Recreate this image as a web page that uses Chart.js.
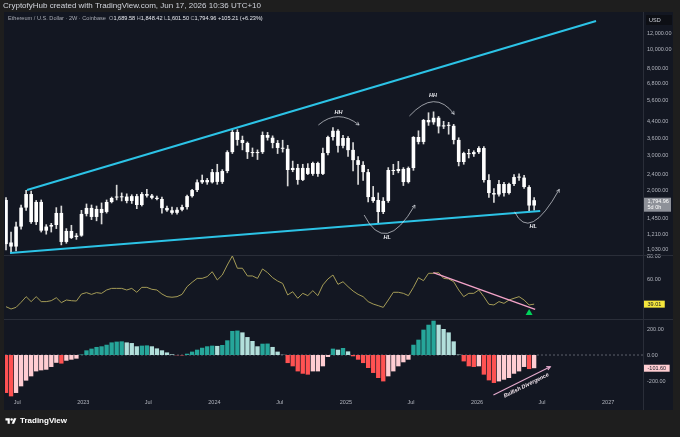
<!DOCTYPE html>
<html>
<head>
<meta charset="utf-8">
<title>Ethereum / U.S. Dollar 2W</title>
<script src="https://cdn.jsdelivr.net/npm/chart.js@4.4.1/dist/chart.umd.min.js"></script>
<style>
  html, body { margin: 0; padding: 0; background: #1e1e1e; }
  #wrap { position: relative; width: 680px; height: 437px; overflow: hidden; font-family: "Liberation Sans", Arial, sans-serif; }
  #panel { position: absolute; left: 4px; top: 12px; width: 669px; height: 398px; background: #131722; }
  #chart { position: absolute; left: 0; top: 0; }
  #header { position: absolute; left: 3px; top: 1px; font-size: 8px; color: #d1d4dc; white-space: nowrap; }
  #legend { position: absolute; left: 8px; top: 15px; font-size: 5.6px; color: #a7aab3; white-space: nowrap; }
  #legend b { font-weight: normal; color: #e6e8ee; }
  #footer { position: absolute; left: 5px; top: 416px; font-size: 8px; font-weight: bold; color: #ffffff; display: flex; align-items: center; gap: 3px; }
</style>
</head>
<body>
<div id="wrap">
  <div id="panel"></div>
  <canvas id="chart" width="680" height="437"></canvas>
  <div id="header">CryptofyHub created with TradingView.com, Jun 17, 2026 10:36 UTC+10</div>
  <div id="legend">Ethereum / U.S. Dollar · 2W · Coinbase &nbsp;O<b>1,689.58</b> H<b>1,848.42</b> L<b>1,601.50</b> C<b>1,794.96</b> <b>+105.21 (+6.23%)</b></div>
  <div id="footer">
    <svg width="12" height="8" viewBox="0 0 36 26"><path d="M14 22H7V11H0V4h14v18z" fill="#fff"/><circle cx="20" cy="8" r="4" fill="#fff"/><path d="M28 22h-8l7.5-18h8L28 22z" fill="#fff"/></svg>
    <span>TradingView</span>
  </div>
</div>
<script>
// ETH/USD, 2-week candles, Coinbase
const opens = [
  1800, 1110, 1060, 1330, 1650, 1925, 1400, 1760, 1270, 1330,
  1354, 1553, 1117, 1265, 1182, 1200, 1536, 1644, 1484, 1625,
  1571, 1759, 1850, 1865, 1870, 1780, 1880, 1700, 1925, 1890,
  1845, 1820, 1644, 1600, 1555, 1610, 1660, 1880, 2014, 2200,
  2257, 2200, 2470, 2210, 2500, 3100, 3895, 3560, 3440, 3100,
  3067, 3100, 3766, 3650, 3440, 3250, 3220, 2530, 2590, 2260,
  2590, 2420, 2740, 2420, 3067, 3680, 3950, 3330, 3640, 3180,
  2830, 2680, 2470, 1860, 1800, 1570, 1780, 2530, 2500, 2560,
  2206, 2587, 3680, 3480, 4464, 4350, 4580, 4150, 4200, 4180,
  3560, 2770, 3067, 3030, 3100, 3247, 2257, 1947, 1915, 2157,
  1947, 2157, 2335, 2320, 2084, 1689.58
];
const highs = [
  1850, 1250, 1400, 1700, 2010, 1990, 1790, 1800, 1360, 1380,
  1650, 1680, 1300, 1350, 1230, 1600, 1720, 1700, 1680, 1740,
  1800, 1860, 2130, 1950, 1930, 1910, 1920, 1960, 2030, 1920,
  1880, 1860, 1680, 1660, 1650, 1700, 1900, 2030, 2260, 2390,
  2300, 2550, 2700, 2540, 3150, 4000, 4000, 3720, 3480, 3250,
  3180, 3900, 3880, 3730, 3540, 3550, 3350, 2800, 2700, 2700,
  2720, 2770, 2770, 3250, 3720, 4100, 4000, 3750, 3700, 3450,
  2950, 2780, 2550, 2100, 1950, 1850, 2600, 2700, 2790, 2600,
  2620, 3700, 3950, 4500, 4850, 4900, 4650, 4400, 4350, 4250,
  3650, 3100, 3200, 3150, 3300, 3300, 2400, 2050, 2250, 2200,
  2180, 2400, 2420, 2380, 2120, 1848.42
];
const lows = [
  1020, 985, 1010, 1290, 1600, 1380, 1360, 1250, 1220, 1250,
  1300, 1080, 1100, 1160, 1150, 1190, 1500, 1440, 1420, 1370,
  1550, 1740, 1800, 1780, 1740, 1730, 1630, 1680, 1860, 1820,
  1800, 1550, 1580, 1530, 1530, 1590, 1620, 1860, 1980, 2170,
  2150, 2180, 2150, 2170, 2450, 3050, 3350, 3180, 2880, 2950,
  2850, 3050, 3550, 3250, 3050, 3100, 2110, 2480, 2150, 2240,
  2400, 2380, 2350, 2400, 3000, 3550, 3100, 3250, 2950, 2500,
  2150, 2250, 1760, 1750, 1385, 1540, 1750, 2400, 2450, 2120,
  2180, 2520, 3400, 3400, 4200, 4250, 3850, 4050, 3800, 3400,
  2650, 2700, 2900, 2950, 3050, 2200, 1850, 1750, 1880, 1880,
  1920, 2120, 2250, 2050, 1571, 1601.50
];
const closes = [
  1090, 1060, 1330, 1650, 1925, 1400, 1760, 1270, 1330, 1354,
  1553, 1117, 1265, 1169, 1200, 1536, 1644, 1484, 1625, 1553,
  1759, 1840, 1865, 1855, 1780, 1880, 1700, 1925, 1890, 1845,
  1820, 1640, 1600, 1555, 1610, 1660, 1880, 2014, 2200, 2257,
  2200, 2470, 2210, 2500, 3100, 3895, 3560, 3440, 3100, 3067,
  3100, 3766, 3650, 3440, 3250, 3220, 2530, 2590, 2260, 2590,
  2420, 2740, 2420, 3067, 3680, 3950, 3330, 3640, 3170, 2830,
  2680, 2470, 1860, 1780, 1570, 1780, 2530, 2500, 2560, 2206,
  2587, 3680, 3480, 4464, 4350, 4580, 4150, 4200, 4180, 3560,
  2770, 3067, 3030, 3100, 3247, 2257, 1947, 1915, 2157, 1947,
  2157, 2335, 2320, 2084, 1689.58, 1794.96
];
const rsiValues = [
  36.8, 34.8, 36.2, 40.6, 45.5, 41.2, 45.5, 41.2, 41.2, 42.0,
  44.6, 40.3, 42.6, 42.0, 41.7, 47.8, 49.0, 47.5, 49.0, 48.4,
  51.3, 52.7, 52.7, 52.7, 51.3, 52.7, 49.3, 53.6, 53.6, 51.9,
  51.3, 47.8, 45.5, 45.0, 45.5, 47.5, 54.2, 58.0, 61.4, 61.4,
  62.9, 67.2, 60.0, 64.3, 73.0, 80.9, 70.2, 70.2, 63.5, 63.5,
  61.4, 69.6, 66.4, 62.0, 59.1, 57.0, 47.0, 49.8, 44.1, 48.4,
  46.4, 50.7, 46.4, 55.7, 60.9, 64.3, 56.2, 58.5, 54.2, 50.4,
  47.5, 45.5, 41.2, 39.1, 37.7, 36.2, 42.6, 49.3, 49.3, 48.4,
  46.4, 53.6, 62.0, 59.4, 65.8, 65.8, 66.4, 61.4, 60.9, 58.5,
  51.3, 45.5, 48.4, 48.4, 51.3, 45.5, 38.9, 38.3, 41.2, 39.7,
  42.6, 44.1, 45.5, 42.6, 38.3, 39.01
];
const macdHist = [
  -292, -318, -292, -241, -197, -164, -126, -118, -113, -92,
  -60, -66, -44, -36, -28, 4, 36, 49, 62, 67,
  79, 97, 103, 105, 97, 92, 67, 72, 74, 67,
  51, 36, 20, 5, -2, -3, 10, 26, 41, 56,
  67, 72, 70, 77, 113, 185, 188, 174, 138, 108,
  67, 87, 88, 62, 26, 2, -62, -87, -126, -144,
  -151, -126, -126, -87, -15, 49, 41, 54, 28, -10,
  -36, -62, -100, -138, -177, -203, -164, -126, -87, -56,
  -36, 79, 118, 195, 233, 264, 233, 200, 174, 105,
  3, -49, -87, -92, -87, -151, -195, -215, -203, -190,
  -177, -144, -126, -92, -108, -101.60
];

const firstCandleDate = '2022-05-31';
const candleDays = 14;
const timeTickLabels = ['Jul', '2023', 'Jul', '2024', 'Jul', '2025', 'Jul', '2026', 'Jul', '2027'];
const timeTickDates = ['2022-07-01', '2023-01-01', '2023-07-01', '2024-01-01', '2024-07-01',
  '2025-01-01', '2025-07-01', '2026-01-01', '2026-07-01', '2027-01-01'];
const priceTicks = [12000, 10000, 8000, 6800, 5600, 4400, 3600, 3000, 2400, 2000, 1450, 1210, 1030];
const rsiTicks = [80, 60];
const macdTicks = [200, 0, -200];

// drawings, as [candle index, value]
const upperTrend = [[4.17, 2014], [117.3, 13750]];
const lowerTrend = [[0.8, 985], [106.2, 1589]];
const rsiTrend = [[84.95, 66.4], [105.2, 34.5]];
const divergenceMark = [104.0, 31.3];
const divergenceArrow = [[96.9, -308], [108.2, -90]];
const swingNotes = [
  { text: 'HH', at: [66.1, 4850], arc: [[62.1, 4218], [66.0, 5100], [70.2, 4218]] },
  { text: 'HH', at: [84.9, 5933], arc: [[80.2, 4673], [85.3, 6408], [89.1, 4764]] },
  { text: 'HL', at: [75.8, 1177], arc: [[71.2, 1517], [75.4, 945], [81.3, 1699]] },
  { text: 'HL', at: [104.8, 1328], arc: [[101.1, 1574], [104.1, 1106], [110.0, 2032]] }
];

const FONT = '"Liberation Sans", Arial, sans-serif';
const AXIS_TEXT = '#b2b5be';

const dayMs = 86400000;
const timeTickPos = timeTickDates.map(d => (Date.parse(d) - Date.parse(firstCandleDate)) / (candleDays * dayMs));

const idx = closes.map((c, i) => i);
const wickData = idx.map(i => ({ x: i, y: [lows[i], highs[i]] }));
const bodyData = idx.map(i => ({ x: i, y: [opens[i], closes[i]] }));
const rsiData = idx.map(i => ({ x: i, y: rsiValues[i] }));
const macdData = idx.map(i => ({ x: i, y: macdHist[i] }));
const toXY = pts => pts.map(p => ({ x: p[0], y: p[1] }));

const macdColors = macdHist.map((v, i) => {
  const prev = i > 0 ? macdHist[i - 1] : v;
  if (v >= 0) return v >= prev ? '#26a69a' : '#b2dfdb';
  return (i === 0 || v < prev) ? '#ff5252' : '#ffcdd2';
});

function fmt(v) {
  return v.toLocaleString('en-US', { minimumFractionDigits: 2, maximumFractionDigits: 2 });
}

function axisLabel(ctx, left, y, text, bg, fg, sub) {
  ctx.save();
  ctx.font = '5.5px ' + FONT;
  const h = sub ? 14 : 7;
  const w = sub ? 27 : ctx.measureText(text).width + 7;
  ctx.fillStyle = bg;
  ctx.fillRect(left, y - 3.5, w, h);
  ctx.fillStyle = fg;
  ctx.textBaseline = 'middle';
  ctx.fillText(text, left + 3.5, y);
  if (sub) ctx.fillText(sub, left + 3.5, y + 6.5);
  ctx.restore();
}

function arrowHead(ctx, from, to, size) {
  const a = Math.atan2(to.y - from.y, to.x - from.x);
  ctx.beginPath();
  ctx.moveTo(to.x - size * Math.cos(a - 0.5), to.y - size * Math.sin(a - 0.5));
  ctx.lineTo(to.x, to.y);
  ctx.lineTo(to.x - size * Math.cos(a + 0.5), to.y - size * Math.sin(a + 0.5));
  ctx.stroke();
}

const overlay = {
  id: 'overlay',
  beforeDatasetsDraw(chart) {
    const { ctx, chartArea, scales } = chart;
    const y0 = scales.macd.getPixelForValue(0);
    ctx.save();
    ctx.strokeStyle = '#5d606b';
    ctx.lineWidth = 1;
    ctx.setLineDash([2, 2]);
    ctx.beginPath();
    ctx.moveTo(chartArea.left, y0);
    ctx.lineTo(chartArea.right, y0);
    ctx.stroke();
    ctx.restore();
  },
  afterDraw(chart) {
    const { ctx, chartArea, scales } = chart;
    const x = scales.x, price = scales.price, rsi = scales.rsi, macd = scales.macd;
    const P = p => ({ x: x.getPixelForValue(p[0]), y: price.getPixelForValue(p[1]) });

    ctx.save();
    // pane borders
    ctx.strokeStyle = '#2a2e39';
    ctx.lineWidth = 1;
    ctx.beginPath();
    ctx.moveTo(4, Math.round(rsi.top) + 0.5); ctx.lineTo(673, Math.round(rsi.top) + 0.5);
    ctx.moveTo(4, Math.round(macd.top) + 0.5); ctx.lineTo(673, Math.round(macd.top) + 0.5);
    ctx.moveTo(Math.round(chartArea.right) + 0.5, 12); ctx.lineTo(Math.round(chartArea.right) + 0.5, 410);
    ctx.stroke();

    // HH / HL notes
    ctx.strokeStyle = 'rgba(220,222,228,0.85)';
    ctx.lineWidth = 0.8;
    ctx.fillStyle = '#e8e9ee';
    ctx.font = 'italic bold 5.5px ' + FONT;
    ctx.textAlign = 'center';
    ctx.textBaseline = 'middle';
    swingNotes.forEach(n => {
      const a = P(n.arc[0]), c = P(n.arc[1]), b = P(n.arc[2]);
      ctx.beginPath();
      ctx.moveTo(a.x, a.y);
      ctx.quadraticCurveTo(c.x, c.y, b.x, b.y);
      ctx.stroke();
      arrowHead(ctx, c, b, 3.5);
      const t = P(n.at);
      ctx.fillText(n.text, t.x, t.y);
    });

    // divergence arrow + text on the MACD pane
    const s = { x: x.getPixelForValue(divergenceArrow[0][0]), y: macd.getPixelForValue(divergenceArrow[0][1]) };
    const e = { x: x.getPixelForValue(divergenceArrow[1][0]), y: macd.getPixelForValue(divergenceArrow[1][1]) };
    ctx.strokeStyle = '#e3a9cc';
    ctx.lineWidth = 1.2;
    ctx.beginPath();
    ctx.moveTo(s.x, s.y);
    ctx.lineTo(e.x, e.y);
    ctx.stroke();
    arrowHead(ctx, s, e, 4);
    const ang = Math.atan2(e.y - s.y, e.x - s.x);
    ctx.translate((s.x + e.x) / 2, (s.y + e.y) / 2);
    ctx.rotate(ang);
    ctx.fillStyle = '#f3e6ee';
    ctx.font = 'italic bold 5.5px ' + FONT;
    ctx.fillText('Bullish Divergence', 2, 6);
    ctx.setTransform(1, 0, 0, 1, 0, 0);
    ctx.restore();

    // price scale extras
    const left = chartArea.right + 1;
    ctx.save();
    ctx.fillStyle = '#0d0f15';
    ctx.fillRect(left + 2, 15, 26, 10);
    ctx.fillStyle = '#d1d4dc';
    ctx.font = '5.5px ' + FONT;
    ctx.textBaseline = 'middle';
    ctx.fillText('USD', left + 5, 20);
    ctx.restore();

    const last = closes.length - 1;
    axisLabel(ctx, left, price.getPixelForValue(closes[last]) + 1, fmt(closes[last]), '#8e9199', '#ffffff', '5d 0h');
    axisLabel(ctx, left, rsi.getPixelForValue(rsiValues[last]), fmt(rsiValues[last]), '#f5e63c', '#131722');
    axisLabel(ctx, left, macd.getPixelForValue(macdHist[last]), fmt(macdHist[last]), '#ffcdd2', '#131722');
  }
};

const yAxisBase = {
  position: 'right',
  stack: 'panes',
  grid: { display: false, drawTicks: false },
  border: { display: false },
  afterFit: s => { s.width = 30; },
  ticks: { autoSkip: false, padding: 4, color: AXIS_TEXT, font: { size: 5.5, family: FONT }, callback: v => fmt(v) }
};

new Chart(document.getElementById('chart').getContext('2d'), {
  type: 'bar',
  data: {
    datasets: [
      { type: 'bar', data: wickData, yAxisID: 'price', backgroundColor: '#d9d9d9', barThickness: 1, grouped: false, order: 5 },
      { type: 'bar', data: bodyData, yAxisID: 'price', backgroundColor: '#ffffff', barPercentage: 0.72, categoryPercentage: 1, minBarLength: 1, grouped: false, order: 4 },
      { type: 'line', data: toXY(upperTrend), yAxisID: 'price', borderColor: '#2cc3e6', borderWidth: 2, pointRadius: 0, order: 1 },
      { type: 'line', data: toXY(lowerTrend), yAxisID: 'price', borderColor: '#2cc3e6', borderWidth: 2, pointRadius: 0, order: 1 },
      { type: 'line', data: rsiData, yAxisID: 'rsi', borderColor: '#a59c57', borderWidth: 1, pointRadius: 0, tension: 0, order: 2 },
      { type: 'line', data: toXY(rsiTrend), yAxisID: 'rsi', borderColor: '#f3a3c8', borderWidth: 1.5, pointRadius: 0, order: 1 },
      { type: 'line', data: toXY([divergenceMark]), yAxisID: 'rsi', showLine: false, pointStyle: 'triangle', pointRadius: 4, pointBackgroundColor: '#00d25b', pointBorderWidth: 0, order: 1 },
      { type: 'bar', data: macdData, yAxisID: 'macd', backgroundColor: macdColors, barPercentage: 0.86, categoryPercentage: 1, grouped: false, order: 3 }
    ]
  },
  options: {
    responsive: false,
    animation: false,
    events: [],
    layout: { padding: { left: 5, right: 7, top: 13, bottom: 28 } },
    plugins: { legend: { display: false }, tooltip: { enabled: false } },
    scales: {
      x: {
        type: 'linear',
        min: -0.2,
        max: 126.64,
        offset: false,
        grid: { display: false, offset: false, drawTicks: false },
        border: { display: false },
        afterBuildTicks: s => { s.ticks = timeTickPos.map(v => ({ value: v })); },
        afterFit: s => { s.height = 12; },
        ticks: { autoSkip: false, maxRotation: 0, padding: 2.5, color: AXIS_TEXT, font: { size: 5.5, family: FONT },
          callback: (v, i) => timeTickLabels[i] }
      },
      price: Object.assign({}, yAxisBase, {
        type: 'logarithmic', stackWeight: 242, min: 963, max: 15062,
        afterBuildTicks: s => { s.ticks = priceTicks.map(v => ({ value: v })); }
      }),
      rsi: Object.assign({}, yAxisBase, {
        type: 'linear', stackWeight: 64, min: 26.1, max: 81.7,
        afterBuildTicks: s => { s.ticks = rsiTicks.map(v => ({ value: v })); }
      }),
      macd: Object.assign({}, yAxisBase, {
        type: 'linear', stackWeight: 78, min: -323, max: 277,
        afterBuildTicks: s => { s.ticks = macdTicks.map(v => ({ value: v })); }
      })
    }
  },
  plugins: [overlay]
});
</script>
</body>
</html>
